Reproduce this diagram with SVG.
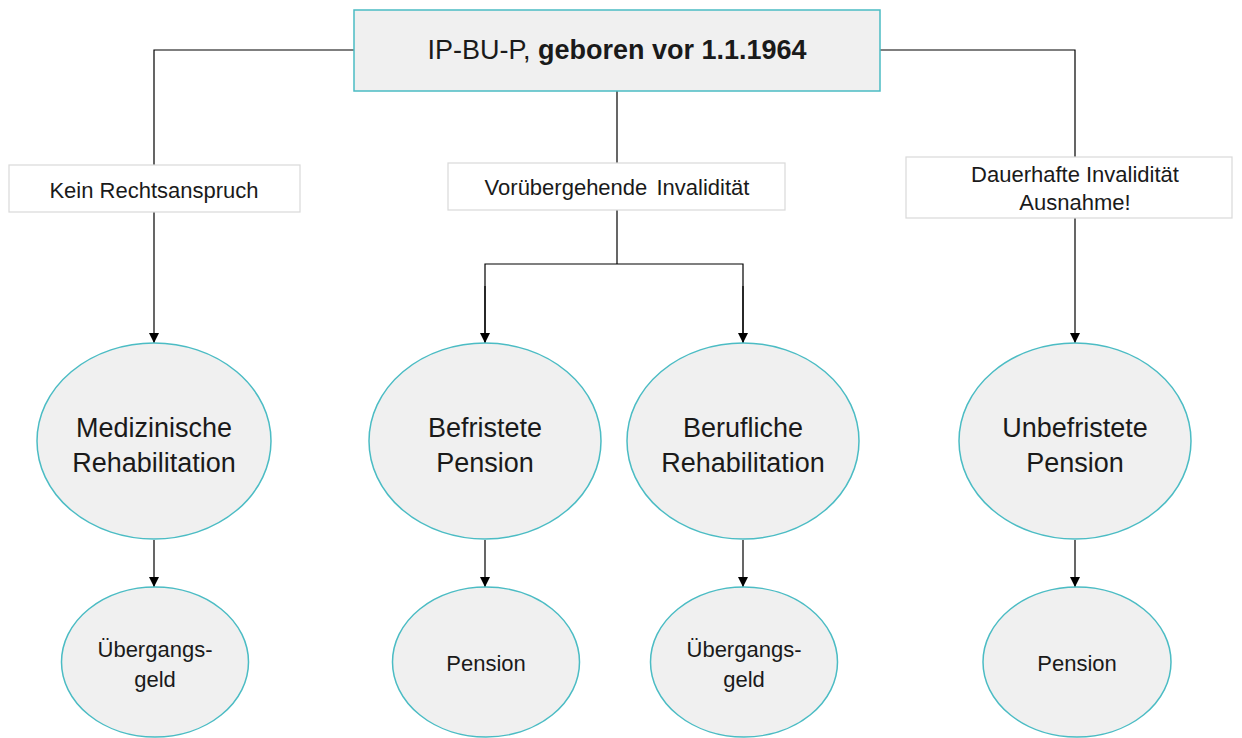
<svg xmlns="http://www.w3.org/2000/svg" width="1242" height="738" viewBox="0 0 1242 738">
<defs>
<marker id="arr" viewBox="0 0 10 10" refX="10" refY="5" markerWidth="10" markerHeight="10" markerUnits="userSpaceOnUse" orient="auto">
<path d="M0,0 L10,5 L0,10 Z" fill="#000"/>
</marker>
<style>
text{font-family:"Liberation Sans",Arial,sans-serif;fill:#1a1a1a;text-anchor:middle}
.top{fill:#f0f0f0;stroke:#4bbcc4;stroke-width:1.5}
.lbl{fill:#fff;stroke:#d9d9d9;stroke-width:1.2}
.ell{fill:#f0f0f0;stroke:#4bbcc4;stroke-width:1.5}
.con{fill:none;stroke:#000;stroke-width:1.2}
.arr{marker-end:url(#arr)}
.t26{font-size:27px}
.t22{font-size:22px}
.t21{font-size:22px}
</style>
</defs>
<rect width="1242" height="738" fill="#fff"/>
<g id="connectors">
<polyline class="con" points="354,50 154,50 154,165"/>
<polyline class="con" points="880,50 1075,50 1075,157"/>
<line class="con" x1="617" y1="91" x2="617" y2="164"/>
<line class="con arr" x1="154" y1="212" x2="154" y2="343"/>
<line class="con" x1="617" y1="210" x2="617" y2="264"/>
<polyline class="con" points="485,343 485,264 743,264 743,343"/>
<line class="con arr" x1="485" y1="286" x2="485" y2="343"/>
<line class="con arr" x1="743" y1="286" x2="743" y2="343"/>
<line class="con arr" x1="1075" y1="218" x2="1075" y2="343"/>
<line class="con arr" x1="154" y1="540" x2="154" y2="587"/>
<line class="con arr" x1="485" y1="540" x2="485" y2="587"/>
<line class="con arr" x1="743" y1="540" x2="743" y2="587"/>
<line class="con arr" x1="1075" y1="540" x2="1075" y2="587"/>
</g>
<g id="root">
<rect class="top" x="354" y="10" width="526" height="81"/>
<text class="t26" x="617" y="59">IP-BU-P, <tspan font-weight="bold">geboren vor 1.1.1964</tspan></text>
</g>
<g id="lbl-kein">
<rect class="lbl" x="9" y="165" width="291" height="47"/>
<text class="t21" x="154" y="198">Kein Rechtsanspruch</text>
</g>
<g id="lbl-vor">
<rect class="lbl" x="448" y="163" width="337" height="47"/>
<text class="t21" x="617" y="195" word-spacing="3">Vorübergehende Invalidität</text>
</g>
<g id="lbl-dauer">
<rect class="lbl" x="906" y="157" width="326" height="61"/>
<text class="t21" x="1075" y="182">Dauerhafte Invalidität</text>
<text class="t21" x="1075" y="210">Ausnahme!</text>
</g>
<g id="med">
<ellipse class="ell" cx="154" cy="441" rx="117" ry="98"/>
<text class="t26" x="154" y="437">Medizinische</text>
<text class="t26" x="154" y="472">Rehabilitation</text>
</g>
<g id="befr">
<ellipse class="ell" cx="485" cy="441" rx="116" ry="98"/>
<text class="t26" x="485" y="437">Befristete</text>
<text class="t26" x="485" y="472">Pension</text>
</g>
<g id="beruf">
<ellipse class="ell" cx="743" cy="441" rx="116" ry="98"/>
<text class="t26" x="743" y="437">Berufliche</text>
<text class="t26" x="743" y="472">Rehabilitation</text>
</g>
<g id="unbefr">
<ellipse class="ell" cx="1075" cy="441" rx="116" ry="98"/>
<text class="t26" x="1075" y="437">Unbefristete</text>
<text class="t26" x="1075" y="472">Pension</text>
</g>
<g id="med-geld">
<ellipse class="ell" cx="155" cy="662" rx="93.5" ry="75"/>
<text class="t22" x="155" y="657">Übergangs-</text>
<text class="t22" x="155" y="687">geld</text>
</g>
<g id="befr-pension">
<ellipse class="ell" cx="486" cy="662" rx="93.5" ry="75"/>
<text class="t22" x="486" y="671">Pension</text>
</g>
<g id="beruf-geld">
<ellipse class="ell" cx="744" cy="662" rx="93.5" ry="75"/>
<text class="t22" x="744" y="657">Übergangs-</text>
<text class="t22" x="744" y="687">geld</text>
</g>
<g id="unbefr-pension">
<ellipse class="ell" cx="1077" cy="662" rx="94" ry="75"/>
<text class="t22" x="1077" y="671">Pension</text>
</g>
</svg>
